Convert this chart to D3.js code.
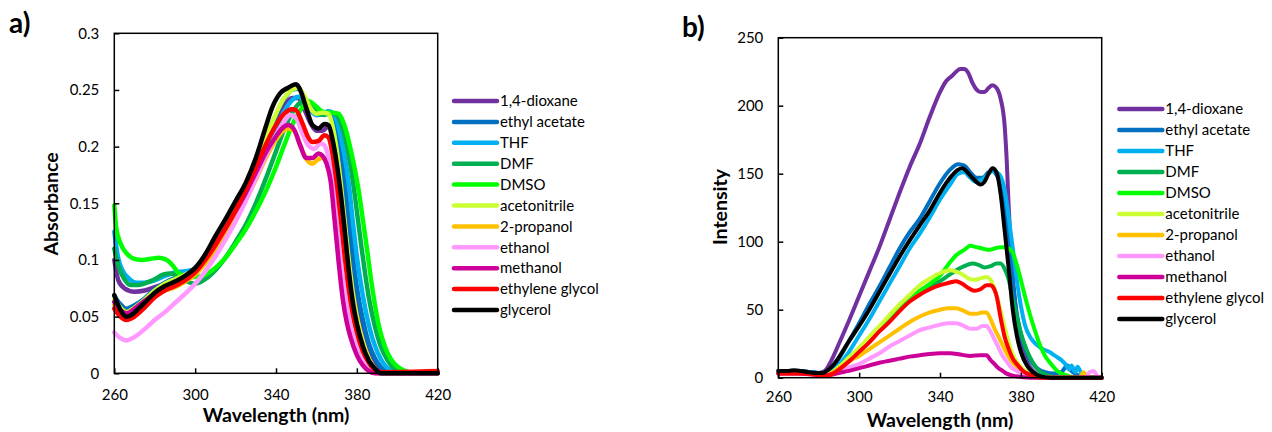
<!DOCTYPE html>
<html>
<head>
<meta charset="utf-8">
<script src="https://cdn.jsdelivr.net/npm/d3@7"></script>
<style>
  body { margin: 0; background: #fff; }
  svg text { font-family: Lato, "Open Sans", sans-serif; fill: #000; }
</style>
</head>
<body>
<div id="chart"></div>
<script>
// solvents, in legend order
var solvents = ["1,4-dioxane", "ethyl acetate", "THF", "DMF", "DMSO", "acetonitrile",
                "2-propanol", "ethanol", "methanol", "ethylene glycol", "glycerol"];
var solventColors = ["#7030A0", "#0070C0", "#00B0F0", "#00B050", "#00FF00", "#CCFF33",
                     "#FFC000", "#FF99FF", "#CC0099", "#FF0000", "#000000"];

var xTicks = [260, 300, 340, 380, 420];
var absTicks = [0, 0.05, 0.1, 0.15, 0.2, 0.25, 0.3];
var intTicks = [0, 50, 100, 150, 200, 250];

// a) absorbance, [wavelength nm, absorbance]
var absDioxane = [[260,0.100],[262,0.082],[265,0.075],[270,0.072],[275,0.073],[280,0.076],[285,0.079],[290,0.082],[295,0.086],[300,0.091],[305,0.102],[310,0.115],[315,0.129],[320,0.144],[325,0.160],[330,0.180],[335,0.203],[340,0.222],[344,0.236],[348,0.243],[351,0.243],[354,0.233],[357,0.221],[360,0.214],[363,0.214],[366,0.218],[368,0.214],[370,0.202],[372,0.182],[374,0.155],[376,0.120],[378,0.087],[380,0.062],[383,0.036],[386,0.019],[389,0.008],[392,0.003],[396,0],[420,0]];
var absEthylAcetate = [[260,0.068],[263,0.061],[266,0.057],[270,0.060],[275,0.066],[280,0.074],[285,0.080],[290,0.084],[295,0.087],[300,0.092],[305,0.103],[310,0.116],[315,0.130],[320,0.145],[325,0.162],[330,0.183],[335,0.207],[340,0.228],[344,0.242],[348,0.250],[351,0.251],[354,0.243],[357,0.233],[360,0.228],[363,0.229],[366,0.231],[368,0.227],[370,0.215],[372,0.196],[374,0.170],[376,0.138],[378,0.104],[380,0.076],[383,0.047],[386,0.026],[389,0.013],[392,0.005],[396,0.001],[400,0],[420,0]];
var absTHF = [[260,0.125],[262,0.101],[264,0.091],[267,0.084],[271,0.080],[275,0.080],[280,0.082],[285,0.086],[290,0.089],[295,0.090],[300,0.092],[305,0.100],[310,0.112],[315,0.125],[320,0.139],[325,0.155],[330,0.173],[335,0.195],[340,0.216],[344,0.231],[348,0.241],[351,0.244],[354,0.240],[357,0.232],[360,0.228],[363,0.229],[366,0.231],[368,0.230],[370,0.223],[372,0.209],[374,0.191],[376,0.167],[378,0.134],[380,0.103],[383,0.068],[386,0.042],[389,0.024],[392,0.012],[395,0.005],[399,0.002],[404,0],[420,0]];
var absDMF = [[260,0.110],[262,0.095],[265,0.083],[268,0.078],[272,0.078],[276,0.080],[280,0.083],[284,0.087],[288,0.088],[292,0.085],[296,0.081],[300,0.079],[305,0.083],[310,0.091],[315,0.102],[320,0.116],[325,0.131],[330,0.150],[335,0.172],[340,0.196],[344,0.215],[348,0.230],[352,0.239],[355,0.241],[358,0.236],[361,0.229],[364,0.228],[367,0.230],[370,0.228],[372,0.221],[374,0.209],[376,0.192],[378,0.170],[380,0.143],[382,0.115],[384,0.089],[386,0.066],[389,0.041],[392,0.023],[395,0.012],[398,0.005],[402,0.001],[406,0],[420,0]];
var absDMSO = [[260,0.148],[261,0.128],[263,0.115],[266,0.106],[270,0.101],[274,0.100],[278,0.101],[282,0.102],[286,0.100],[289,0.095],[292,0.088],[296,0.085],[300,0.085],[305,0.087],[310,0.093],[315,0.102],[320,0.114],[325,0.127],[330,0.143],[335,0.161],[340,0.182],[344,0.201],[348,0.219],[352,0.232],[356,0.240],[359,0.237],[362,0.232],[365,0.230],[368,0.230],[371,0.229],[373,0.223],[375,0.212],[377,0.197],[379,0.180],[381,0.160],[383,0.135],[385,0.110],[387,0.083],[389,0.060],[391,0.041],[394,0.023],[397,0.012],[400,0.006],[404,0.002],[410,0],[420,0]];
var absAcetonitrile = [[260,0.066],[263,0.058],[266,0.054],[270,0.058],[275,0.065],[280,0.073],[285,0.079],[290,0.083],[295,0.087],[300,0.092],[305,0.104],[310,0.118],[315,0.133],[320,0.149],[325,0.166],[330,0.186],[335,0.208],[340,0.229],[344,0.243],[348,0.250],[351,0.252],[354,0.245],[357,0.234],[360,0.229],[363,0.230],[366,0.229],[368,0.218],[370,0.197],[372,0.168],[374,0.134],[376,0.100],[378,0.071],[380,0.050],[383,0.028],[386,0.013],[389,0.004],[393,0],[420,0]];
var abs2Propanol = [[260,0.060],[263,0.054],[266,0.052],[270,0.056],[275,0.062],[280,0.069],[285,0.073],[290,0.076],[295,0.081],[300,0.087],[305,0.097],[310,0.109],[315,0.122],[320,0.137],[325,0.153],[330,0.171],[335,0.190],[340,0.206],[343,0.213],[346,0.216],[349,0.214],[352,0.201],[355,0.189],[358,0.185],[361,0.189],[363,0.190],[365,0.186],[367,0.176],[369,0.150],[371,0.112],[373,0.079],[375,0.054],[377,0.036],[380,0.019],[383,0.008],[386,0.002],[390,0],[420,0]];
var absEthanol = [[260,0.036],[263,0.031],[266,0.029],[270,0.032],[275,0.039],[280,0.047],[285,0.054],[290,0.062],[295,0.070],[300,0.079],[305,0.090],[310,0.103],[315,0.118],[320,0.134],[325,0.152],[330,0.172],[335,0.192],[340,0.210],[344,0.222],[347,0.228],[350,0.225],[353,0.212],[356,0.201],[359,0.198],[362,0.203],[364,0.201],[366,0.190],[368,0.168],[370,0.133],[372,0.099],[374,0.070],[376,0.049],[378,0.033],[381,0.017],[384,0.007],[387,0.002],[391,0],[420,0]];
var absMethanol = [[260,0.063],[263,0.056],[266,0.053],[270,0.057],[275,0.064],[280,0.070],[285,0.074],[290,0.078],[295,0.083],[300,0.090],[305,0.101],[310,0.114],[315,0.128],[320,0.143],[325,0.159],[330,0.177],[335,0.195],[340,0.209],[343,0.216],[346,0.219],[349,0.215],[352,0.201],[355,0.190],[358,0.190],[361,0.194],[363,0.192],[365,0.185],[367,0.170],[369,0.135],[371,0.098],[373,0.066],[375,0.045],[377,0.031],[380,0.016],[383,0.007],[386,0.002],[389,0],[420,0]];
var absEthyleneGlycol = [[260,0.057],[263,0.050],[266,0.047],[270,0.050],[275,0.058],[280,0.067],[285,0.073],[290,0.077],[295,0.082],[300,0.089],[305,0.100],[310,0.113],[315,0.128],[320,0.144],[325,0.162],[330,0.182],[335,0.202],[340,0.219],[344,0.229],[348,0.233],[350,0.232],[353,0.221],[356,0.208],[358,0.204],[361,0.205],[364,0.210],[366,0.208],[368,0.193],[370,0.168],[372,0.137],[374,0.103],[376,0.074],[378,0.052],[380,0.036],[383,0.019],[386,0.009],[389,0.003],[393,0.001],[420,0.002]];
var absGlycerol = [[260,0.069],[263,0.056],[266,0.050],[268,0.051],[272,0.057],[276,0.064],[280,0.071],[285,0.077],[290,0.081],[295,0.086],[300,0.093],[305,0.105],[310,0.121],[315,0.136],[320,0.152],[325,0.168],[330,0.190],[335,0.218],[338,0.234],[342,0.247],[346,0.252],[350,0.255],[352,0.250],[355,0.234],[358,0.219],[361,0.216],[364,0.220],[366,0.219],[368,0.206],[370,0.186],[372,0.159],[374,0.126],[376,0.091],[378,0.063],[380,0.044],[383,0.024],[386,0.011],[389,0.004],[392,0],[420,0]];

// b) emission intensity, [wavelength nm, intensity]
var emDioxane = [[260,5],[268,5],[272,5],[276,4],[280,3.5],[283,5],[286,12],[290,25],[295,42],[300,60],[305,78],[310,96],[315,116],[320,136],[325,155],[330,172],[335,192],[340,210],[343,218],[346,222],[348,225],[350,227],[352,227],[354,224],[356,217],[358,212],[360,210],[362,210],[364,213],[366,215],[368,213],[370,205],[372,185],[373,160],[374,125],[376,75],[378,45],[380,28],[383,12],[386,5],[390,1],[395,0],[420,0]];
var emEthylAcetate = [[260,5],[270,5],[276,4],[280,3.5],[284,4],[287,7],[290,14],[295,27],[300,40],[305,54],[310,67],[315,81],[320,95],[325,107],[330,117],[335,130],[340,143],[345,153],[349,157],[352,156],[355,151],[358,147],[361,147],[364,151],[366,152],[368,149],[370,142],[372,125],[374,98],[376,70],[378,47],[380,32],[383,18],[386,10],[389,6],[392,4],[396,3],[400,4],[403,9],[405,5],[408,2],[412,0],[420,0]];
var emTHF = [[260,5],[270,5],[276,4],[280,3.5],[284,3.5],[287,5],[290,9],[295,19],[300,31],[305,43],[310,56],[315,69],[320,82],[325,95],[330,106],[335,118],[340,131],[345,142],[349,150],[352,151],[355,147],[358,144],[361,146],[364,150],[366,152],[368,151],[370,148],[372,138],[374,118],[376,95],[378,72],[380,53],[382,39],[385,29],[388,24],[391,21],[394,19],[397,16],[400,13],[402,10],[404,6],[405,9],[407,4],[408,8],[410,3],[412,0],[420,0]];
var emDMF = [[260,4],[270,4],[280,3],[285,3],[290,7],[295,13],[300,20],[305,27],[310,35],[315,43],[320,50],[325,57],[330,63],[335,67],[340,71],[344,75],[348,79],[352,82],[356,84],[359,83],[362,81],[365,82],[368,84],[370,84],[372,80],[374,72],[376,58],[378,45],[380,33],[383,20],[386,11],[389,5],[393,2],[398,0],[420,0]];
var emDMSO = [[260,4],[270,4],[280,3],[285,3],[290,7],[295,13],[300,20],[305,27],[310,35],[315,43],[320,50],[325,57],[330,64],[335,69],[340,75],[344,83],[348,90],[352,94],[355,97],[358,96],[361,95],[364,94],[367,95],[370,96],[372,96],[374,95],[376,92],[378,83],[380,72],[382,60],[384,49],[386,39],[388,30],[390,22],[392,16],[395,10],[398,5],[402,2],[408,0],[420,0]];
var emAcetonitrile = [[260,4],[270,4],[280,3],[285,3],[290,8],[295,15],[300,22],[305,30],[310,38],[315,46],[320,54],[325,61],[330,68],[335,73],[340,77],[345,79],[348,78],[351,76],[354,73],[357,72],[360,73],[363,74],[365,72],[367,65],[369,55],[371,43],[373,31],[375,21],[377,14],[380,8],[383,4],[387,1],[392,0],[420,0]];
var em2Propanol = [[260,3],[270,3],[280,2.5],[284,2],[287,4],[292,9],[296,13],[300,16],[305,21],[310,26],[315,31],[320,36],[325,41],[330,45],[335,48],[340,50],[344,51],[348,51],[352,49],[355,47],[358,47],[361,48],[363,48],[365,43],[367,36],[369,30],[371,24],[373,18],[375,13],[378,8],[381,5],[385,2],[390,0.5],[395,0],[409,0],[411,4],[413,0],[420,0]];
var emEthanol = [[260,3],[270,3],[280,2.5],[283,2],[287,3],[292,6],[296,8],[300,10],[305,14],[310,18],[315,23],[320,27],[325,31],[330,35],[335,37],[340,39],[344,40],[348,40],[352,38],[355,36],[358,36],[361,38],[363,38],[365,34],[367,28],[369,22],[371,16],[373,12],[375,8],[378,5],[381,3],[385,1],[390,0],[412,0],[414,4],[416,5],[418,1],[420,0]];
var emMethanol = [[260,3],[270,3],[280,2],[285,2],[290,3.5],[295,5],[300,7],[305,9],[310,11],[315,12.5],[320,14],[325,15.5],[330,16.5],[335,17.5],[340,18],[345,18],[350,17],[355,16],[360,16.5],[363,16.5],[365,13],[367,10],[369,7],[371,5],[373,3],[376,1.5],[380,0.5],[385,0],[420,0]];
var emEthyleneGlycol = [[260,3],[270,3],[280,2],[283,1.5],[287,3],[290,6],[295,12],[300,19],[305,26],[310,34],[315,41],[320,49],[325,56],[330,61],[335,65],[340,68],[345,70],[348,71],[351,69],[354,66],[357,64],[360,65],[363,68],[365,68],[366,67],[368,60],[370,44],[372,30],[374,21],[376,14],[378,10],[381,5],[385,2],[390,0],[420,0]];
var emGlycerol = [[260,5],[265,5],[268,5.5],[271,5],[275,4],[279,3.5],[282,3.5],[284,5],[287,9],[290,15],[295,27],[300,38],[305,50],[310,63],[315,76],[320,89],[325,101],[330,112],[335,123],[340,136],[345,147],[349,153],[351,154],[353,152],[356,147],[358,144],[360,142],[362,144],[364,150],[366,154],[368,151],[370,135],[372,108],[374,80],[376,50],[378,31],[380,19],[383,9],[386,4],[390,1],[395,0],[420,0]];

var absorbance = [absDioxane, absEthylAcetate, absTHF, absDMF, absDMSO, absAcetonitrile,
                  abs2Propanol, absEthanol, absMethanol, absEthyleneGlycol, absGlycerol];
var emission = [emDioxane, emEthylAcetate, emTHF, emDMF, emDMSO, emAcetonitrile,
                em2Propanol, emEthanol, emMethanol, emEthyleneGlycol, emGlycerol];

var svg = d3.select("#chart").append("svg")
    .attr("width", 1272)
    .attr("height", 432);

function drawPanel(p) {
    var x = d3.scaleLinear().domain([260, 420]).range([p.left, p.right]);
    var y = d3.scaleLinear().domain(p.yDomain).range([p.bottom, p.top]);

    var line = d3.line()
        .x(function(d) { return x(d[0]); })
        .y(function(d) { return y(d[1]); })
        .curve(d3.curveMonotoneX);

    var g = svg.append("g");

    // spectra, drawn in legend order so glycerol ends on top
    g.selectAll(".spec")
        .data(p.series)
        .enter().append("path")
        .attr("class", "spec")
        .attr("fill", "none")
        .attr("stroke", function(d, i) { return solventColors[i]; })
        .attr("stroke-width", p.lineWidth)
        .attr("stroke-linejoin", "round")
        .attr("stroke-linecap", "round")
        .attr("d", line);

    // axes, ticks inside
    var xAxis = g.append("g")
        .attr("transform", "translate(0," + p.bottom + ")")
        .call(d3.axisBottom(x).tickValues(xTicks).tickSizeInner(-5).tickSizeOuter(0)
            .tickPadding(p.xPad).tickFormat(d3.format("d")));
    var yAxis = g.append("g")
        .attr("transform", "translate(" + p.left + ",0)")
        .call(d3.axisLeft(y).tickValues(p.yTicks).tickSizeInner(-5).tickSizeOuter(0)
            .tickPadding(15).tickFormat(function(d) { return String(d); }));

    [xAxis, yAxis].forEach(function(a) {
        a.attr("font-family", null).attr("font-size", 15);
        a.select(".domain").remove();
        a.selectAll(".tick line").attr("stroke", "#000").attr("stroke-width", 1.5);
    });

    // frame
    g.append("rect")
        .attr("x", p.left).attr("y", p.top)
        .attr("width", p.right - p.left).attr("height", p.bottom - p.top)
        .attr("fill", "none").attr("stroke", "#000").attr("stroke-width", 1.5);

    // axis titles
    g.append("text")
        .attr("x", (p.left + p.right) / 2).attr("y", p.xTitleY)
        .attr("text-anchor", "middle")
        .attr("font-weight", "bold").attr("font-size", 19.5)
        .text("Wavelength (nm)");
    g.append("text")
        .attr("transform", "translate(" + p.yTitleX + "," + p.yTitleCY + ") rotate(-90)")
        .attr("text-anchor", "middle")
        .attr("font-weight", "bold").attr("font-size", 19.5)
        .text(p.yTitle);

    // panel letter
    g.append("text")
        .attr("x", p.letterX).attr("y", p.letterY)
        .attr("font-weight", "bold").attr("font-size", 28)
        .text(p.letter);

    // legend
    var leg = g.selectAll(".leg")
        .data(solvents)
        .enter().append("g")
        .attr("transform", function(d, i) { return "translate(0," + (p.legY + i * p.legStep) + ")"; });
    leg.append("line")
        .attr("x1", p.legX).attr("x2", p.legX + 43)
        .attr("stroke", function(d, i) { return solventColors[i]; })
        .attr("stroke-width", 4.5)
        .attr("stroke-linecap", "round");
    leg.append("text")
        .attr("x", p.legX + 46).attr("dy", "0.35em")
        .attr("font-size", 15)
        .text(function(d) { return d; });
}

drawPanel({
    series: absorbance, yDomain: [0, 0.3], yTicks: absTicks,
    left: 114.3, right: 437.7, top: 33.3, bottom: 373.3,
    lineWidth: 4.5, xPad: 16,
    xTitleY: 422, yTitleX: 58, yTitleCY: 204, yTitle: "Absorbance",
    letter: "a)", letterX: 9, letterY: 33,
    legX: 454, legY: 101, legStep: 20.9
});

drawPanel({
    series: emission, yDomain: [0, 250], yTicks: intTicks,
    left: 778.3, right: 1101.7, top: 37.7, bottom: 377.7,
    lineWidth: 4, xPad: 14,
    xTitleY: 427, yTitleX: 727, yTitleCY: 207, yTitle: "Intensity",
    letter: "b)", letterX: 682, letterY: 37,
    legX: 1119.3, legY: 109, legStep: 21
});
</script>
</body>
</html>
